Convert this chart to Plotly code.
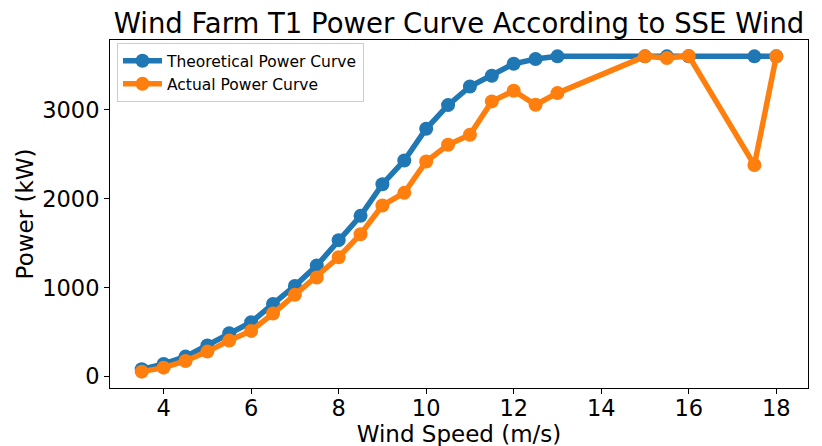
import plotly.graph_objects as go

# wind speed bins (m/s)
wind_speed = [3.5, 4.0, 4.5, 5.0, 5.5, 6.0, 6.5, 7.0, 7.5, 8.0, 8.5, 9.0, 9.5,
              10.0, 10.5, 11.0, 11.5, 12.0, 12.5, 13.0, 15.0, 15.5, 16.0, 17.5, 18.0]

# power in kW
theoretical_kw = [82, 142, 225, 349, 487, 611, 817, 1020, 1249, 1534, 1807, 2163, 2430,
                  2786, 3052, 3262, 3382, 3517, 3570, 3600, 3600, 3600, 3600, 3600, 3600]
actual_kw = [56, 101, 176, 281, 405, 514, 709, 919, 1114, 1342, 1601, 1924, 2066,
             2418, 2606, 2719, 3094, 3213, 3056, 3187, 3600, 3582, 3605, 2378, 3600]

x_ticks = [4, 6, 8, 10, 12, 14, 16, 18]
y_ticks = [0, 1000, 2000, 3000]

FONT = "DejaVu Sans"

fig = go.Figure()
fig.add_trace(go.Scatter(
    x=wind_speed, y=theoretical_kw, name="Theoretical Power Curve",
    mode="lines+markers",
    line=dict(color="#1f77b4", width=5.5),
    marker=dict(color="#1f77b4", size=14),
))
fig.add_trace(go.Scatter(
    x=wind_speed, y=actual_kw, name="Actual Power Curve",
    mode="lines+markers",
    line=dict(color="#ff7f0e", width=5.5),
    marker=dict(color="#ff7f0e", size=14),
))

axis_common = dict(
    showline=True, linecolor="black", linewidth=1, mirror=True,
    ticks="outside", ticklen=5, tickcolor="black", tickwidth=1,
    showgrid=False, zeroline=False, automargin=False,
    tickfont=dict(family=FONT, size=22.5, color="black"),
)

# the page body adds an 8px offset, so margins are shifted to compensate
fig.update_layout(
    width=822, height=446,
    paper_bgcolor="white", plot_bgcolor="white",
    margin=dict(l=102, r=22, t=32, b=66),
    font=dict(family=FONT, color="black"),
    title=dict(text="Wind Farm T1 Power Curve According to SSE Wind",
               font=dict(family=FONT, size=27.5, color="black"),
               x=0.5, xref="paper", xanchor="center",
               y=0.965, yref="container", yanchor="middle", automargin=False),
    xaxis=dict(axis_common, range=[2.775, 18.725], tickvals=x_ticks,
               ticklabelstandoff=-5,
               title=dict(text="Wind Speed (m/s)", font=dict(family=FONT, size=23),
                          standoff=2)),
    yaxis=dict(axis_common, range=[-128, 3784], tickvals=y_ticks,
               title=dict(text="Power (kW)", font=dict(family=FONT, size=23),
                          standoff=2)),
    legend=dict(x=0.01, y=0.991, xanchor="left", yanchor="top",
                bgcolor="rgba(255,255,255,0.8)", bordercolor="#cccccc", borderwidth=1,
                font=dict(family=FONT, size=15.5, color="black"),
                itemwidth=39, tracegroupgap=0),
    showlegend=True,
)

fig.write_html("out.html")
